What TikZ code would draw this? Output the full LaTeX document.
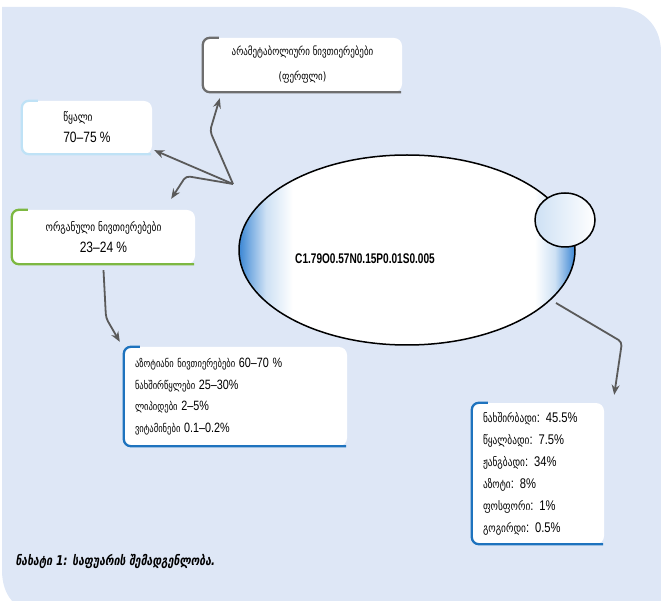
\documentclass[tikz,border=0pt]{standalone}
\usepackage{fontspec}
\usepackage{xcolor}
\usetikzlibrary{positioning,arrows.meta,calc,shapes.geometric}
\setmainfont{DejaVu Sans}[FakeStretch=0.78]
\newfontfamily\formfont{Liberation Sans}[FakeStretch=0.72]
\newfontfamily\numfont{Liberation Sans}[FakeStretch=0.8]
\definecolor{bgblue}{HTML}{DEE7F6}
\definecolor{arrgray}{HTML}{5A5A5A}
\definecolor{edgegray}{HTML}{6E6E6E}
\definecolor{edgelight}{HTML}{BFE2F6}
\definecolor{edgegreen}{HTML}{7DB842}
\definecolor{edgeblue}{HTML}{1E73BE}
\definecolor{shblue}{HTML}{3A86D4}
\pgfdeclarehorizontalshading{ellshade}{100bp}{color(0bp)=(shblue); color(25bp)=(shblue); color(26.5bp)=(shblue!70); color(29bp)=(shblue!25); color(33bp)=(white); color(69bp)=(white); color(72bp)=(shblue!25); color(74bp)=(shblue!75); color(75bp)=(shblue); color(100bp)=(shblue)}
\tikzset{
	env/.style      = {fill=white, rounded corners=8pt, inner sep=0pt},
	bigell/.style   = {ellipse, draw=black, line width=1.5pt, shade, shading=ellshade},
	smallell/.style = {ellipse, draw=black, line width=1.5pt, left color=shblue!25, right color=white},
	arr/.style      = {draw=arrgray, line width=1.8pt, rounded corners=4pt,
		-{Stealth[length=10pt,width=8pt]}}
}

\begin{document}
\begin{tikzpicture}[x=1pt, y=-1pt]
\useasboundingbox (0,0) rectangle (661,601);
\fill[bgblue] (2,7) -- (615,7) .. controls (642,7) and (661,25) .. (661,52)
      -- (661,612) -- (40,612) .. controls (15,612) and (2,595) .. (2,570) -- cycle;

%boxes
\node [env, minimum width=199pt, minimum height=54pt, align=center,
       font=\fontsize{11.5}{25}\selectfont] (nonmet) at (302.5,65)
      {არამეტაბოლიური ნივთიერებები\\(ფერფლი)};
\node [env, minimum width=130pt, minimum height=53pt, align=left,
       font=\fontsize{12}{21}\selectfont] (water) at (87,127.5)
      {წყალი\\{\numfont\fontsize{15}{21}\selectfont 70–75 \%}};
\node [env, minimum width=183pt, minimum height=54pt, align=center,
       font=\fontsize{12}{21}\selectfont] (organic) at (103.5,237)
      {ორგანული ნივთიერებები\\{\numfont\fontsize{15}{21}\selectfont 23–24 \%}};
\node [env, minimum height=99pt, text width=201pt, inner xsep=11pt, align=left,
       font=\fontsize{11}{21.5}\selectfont] (comp) at (235.5,396.5)
      {აზოტიანი ნივთიერებები {\numfont\fontsize{13.5}{16}\selectfont 60–70 \%}\\
       ნახშირწყლები {\numfont\fontsize{13.5}{16}\selectfont 25–30\%}\\
       ლიპიდები {\numfont\fontsize{13.5}{16}\selectfont 2–5\%}\\
       ვიტამინები {\numfont\fontsize{13.5}{16}\selectfont 0.1–0.2\%}};
\node [env, minimum height=141pt, text width=110pt, inner xsep=11pt, align=left,
       font=\fontsize{12}{22}\selectfont] (elem) at (538,473.5)
      {ნახშირბადი{\numfont\fontsize{14}{16}\selectfont: 45.5\%}\\
       წყალბადი{\numfont\fontsize{14}{16}\selectfont: 7.5\%}\\
       ჟანგბადი{\numfont\fontsize{14}{16}\selectfont: 34\%}\\
       აზოტი{\numfont\fontsize{14}{16}\selectfont: 8\%}\\
       ფოსფორი{\numfont\fontsize{14}{16}\selectfont: 1\%}\\
       გოგირდი{\numfont\fontsize{14}{16}\selectfont: 0.5\%}};

\foreach \b/\c in {nonmet/edgegray, water/edgelight, organic/edgegreen, comp/edgeblue, elem/edgeblue}
	\draw [\c, line width=2.3pt, rounded corners=7pt]
	      ([xshift=16pt]\b.north west) -- (\b.north west) -- (\b.south west) -- ([xshift=-1pt]\b.south east);

%cell
\node [bigell, minimum width=336pt, minimum height=190pt] (cell) at (407,250) {};
\node [smallell, minimum width=60pt, minimum height=54pt] (bud) at (565,220) {};
\node [font=\formfont\bfseries\fontsize{14}{16}\selectfont] (chem) at (365,259)
      {C1.79O0.57N0.15P0.01S0.005};

%arrows
\coordinate (hub) at (233,184);
\coordinate (out) at (556,303);
\draw [arr] (hub) -- (210,131) -- ($(nonmet.south west)+(17,6)$);
\draw [arr] (hub) -- ($(water.south east)+(2,-4)$);
\draw [arr] (hub) -- (186,176) -- ($(organic.north east)+(-24,-11)$);
\draw [arr] ($(organic.south)+(0,6)$) -- (106,318) -- ($(comp.north west)+(-4,-5)$);
\draw [arr] (out) -- (622,342) -- ($(elem.north east)+(10,-8)$);

\node [anchor=west, font=\bfseries\itshape\fontsize{13.5}{16}\selectfont] (caption) at (12,561)
      {ნახატი 1: საფუარის შემადგენლობა.};
\end{tikzpicture}
\end{document}
